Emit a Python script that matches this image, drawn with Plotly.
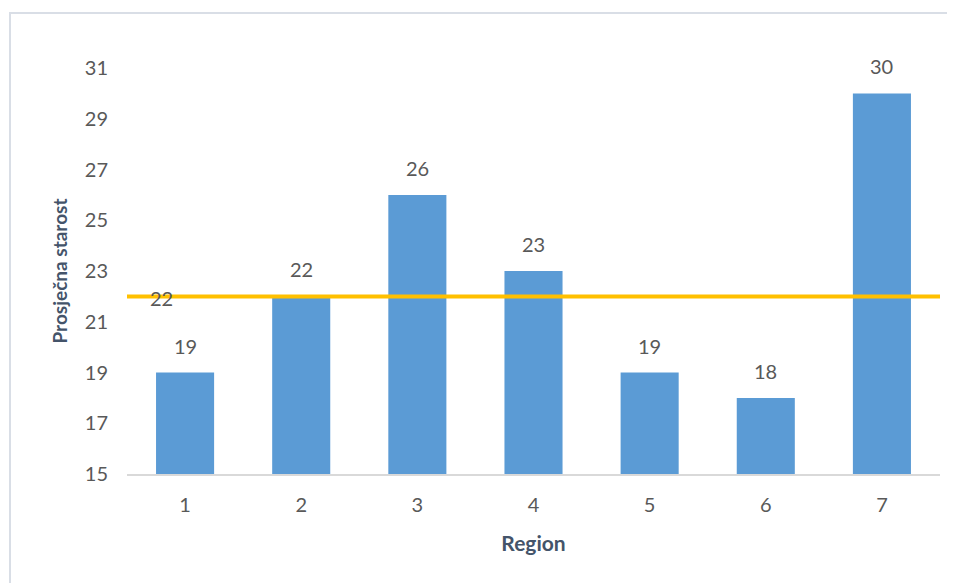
import plotly.graph_objects as go

regions = [1, 2, 3, 4, 5, 6, 7]
avg_age = [19, 22, 26, 23, 19, 18, 30]
overall_avg = 22
y_ticks = [15, 17, 19, 21, 23, 25, 27, 29, 31]

W, H = 955, 583
OFF = 8  # page offset of the figure in the browser
# desired screen pixel positions of the plot area
SL, SR, ST, SB = 127, 940, 68, 474
L, T = SL - OFF, ST - OFF
R = W - (SR - OFF)
B = H - (SB - OFF)
pw, ph = W - L - R, H - T - B

def px_x(p):
    return (p - SL) / pw

def px_y(p):
    return (SB - p) / ph

txt_col = "#595959"
title_col = "#44546A"
font_fam = "Lato, 'Open Sans', sans-serif"

fig = go.Figure()
fig.add_trace(go.Bar(
    x=regions, y=avg_age, width=0.5,
    marker=dict(color="#5B9BD5", line=dict(width=0)),
    showlegend=False, hoverinfo="x+y",
))
fig.add_trace(go.Scatter(
    x=[0.5, 7.5], y=[overall_avg, overall_avg], mode="lines",
    line=dict(color="#FFC000", width=4), showlegend=False,
))

for xv, yv in zip(regions, avg_age):
    fig.add_annotation(x=xv, y=yv, text=str(yv), showarrow=False,
                       yanchor="bottom", yshift=13,
                       font=dict(size=20, color=txt_col, family=font_fam))
fig.add_annotation(x=0.8, y=overall_avg, text=str(overall_avg), showarrow=False,
                   yanchor="middle", yshift=-2,
                   font=dict(size=20, color=txt_col, family=font_fam))

fig.add_shape(type="rect", xref="paper", yref="paper",
              x0=px_x(10), x1=px_x(975), y0=px_y(600), y1=px_y(13),
              line=dict(color="#D9DEE6", width=2), fillcolor="rgba(0,0,0,0)",
              layer="below")

fig.update_layout(
    width=W, height=H,
    margin=dict(l=L, r=R, t=T, b=B),
    paper_bgcolor="white", plot_bgcolor="white",
    font=dict(family=font_fam, color=txt_col, size=20),
    bargap=0.5,
    xaxis=dict(
        range=[0.5, 7.5], tickmode="array", tickvals=regions,
        ticktext=[str(r) for r in regions],
        showgrid=False, zeroline=False,
        showline=True, linecolor="#D9D9D9", linewidth=1.5,
        ticks="", ticklabelstandoff=12,
        tickfont=dict(size=20, color=txt_col),
        title=dict(text="<b>Region</b>", standoff=22,
                   font=dict(size=21, color=title_col)),
    ),
    yaxis=dict(
        range=[15, 31], tickmode="array", tickvals=y_ticks,
        showgrid=False, zeroline=False, showline=False,
        ticks="", ticklabelstandoff=18,
        tickfont=dict(size=20, color=txt_col),
        title=dict(text="<b>Prosječna starost</b>", standoff=12,
                   font=dict(size=19, color=title_col)),
    ),
)

fig.write_html("out.html")
